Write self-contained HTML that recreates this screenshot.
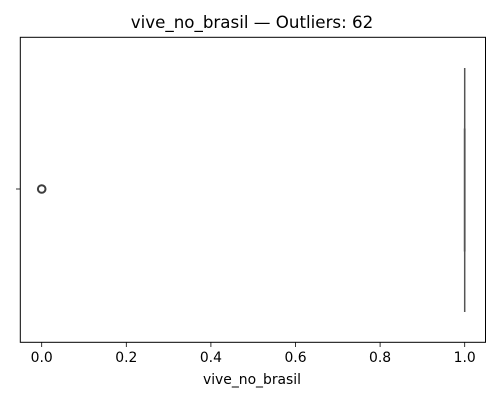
<!DOCTYPE html>
<html><head><meta charset="utf-8"><style>
html,body{margin:0;padding:0;background:#fff;}
svg text{font-family:"DejaVu Sans","Liberation Sans",sans-serif;fill:#000;}
</style></head><body>
<svg id="chart" width="500" height="400" xmlns="http://www.w3.org/2000/svg">
<rect x="0" y="0" width="500" height="400" fill="#fff"/>
<text x="252" y="28" font-size="16.7" text-anchor="middle">vive_no_brasil — Outliers: 62</text>
<g id="plot"></g>
<rect x="20.3" y="37.3" width="465.2" height="305" fill="none" stroke="#000" stroke-width="1"/>
<line x1="16" y1="189" x2="20.3" y2="189" stroke="#000" stroke-width="0.8"/>
<g id="xticks"></g>
<text x="252" y="384" font-size="13.9" text-anchor="middle">vive_no_brasil</text>
</svg>
<script>
const tickValues = [0, 0.2, 0.4, 0.6, 0.8, 1.0];
const tickLabels = ["0.0", "0.2", "0.4", "0.6", "0.8", "1.0"];
const boxStats = [1, 1, 1, 1, 1]; // whiskerLow, q1, median, q3, whiskerHigh
const outliers = [0];
const NS = "http://www.w3.org/2000/svg";
const x = v => 41.7 + v * (464.7 - 41.7);
const cy = 189;
const plot = document.getElementById('plot');
const xt = document.getElementById('xticks');
function mk(tag, attrs, parent) {
  const e = document.createElementNS(NS, tag);
  for (const k in attrs) e.setAttribute(k, attrs[k]);
  parent.appendChild(e);
  return e;
}
tickValues.forEach((v, i) => {
  const l = mk('line', {x1: x(v), x2: x(v), y1: 342.3, y2: 347, stroke: '#000', 'stroke-width': 0.8}, xt);
  
  
  const t = mk('text', {x: x(v), y: 362, 'font-size': 13.9, 'text-anchor': 'middle'}, xt);
  t.textContent = tickLabels[i];
  
  
});
const w = mk('line', {x1: x(boxStats[0]), x2: x(boxStats[4]), y1: 68, y2: 312, stroke: '#555', 'stroke-width': 1.5}, plot);


const bx = x(boxStats[1]);
const bw = Math.max(x(boxStats[3]) - bx, 0);
const box = mk('rect', {x: bx - 0.4, y: 129, width: bw + 0.8, height: 122, fill: '#3274a1', stroke: '#555', 'stroke-width': 1}, plot);


const med = mk('line', {x1: x(boxStats[2]), x2: x(boxStats[2]), y1: 129, y2: 251, stroke: '#555', 'stroke-width': 1}, plot);


outliers.forEach(v => {
  const c = mk('circle', {cx: x(v), cy: cy, r: 3.8, fill: 'none', stroke: '#3d3d3d', 'stroke-width': 2}, plot);
  
  
});
</script>
</body></html>
